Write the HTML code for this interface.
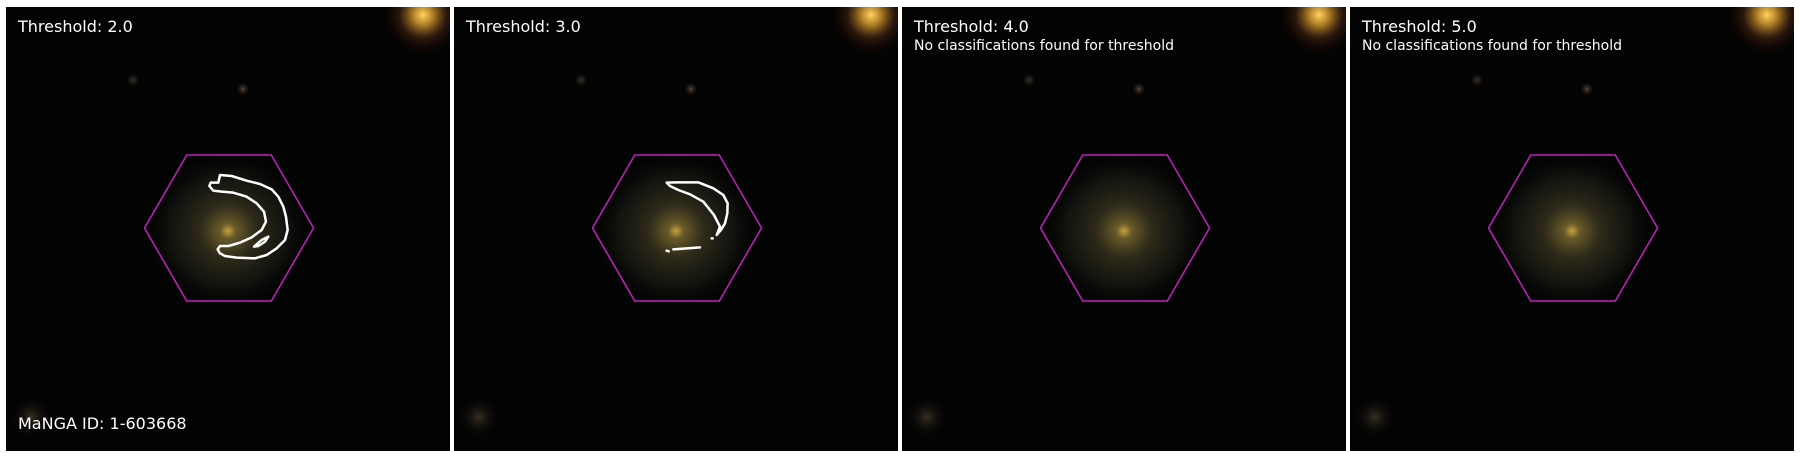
<!DOCTYPE html>
<html><head><meta charset="utf-8">
<style>
html,body{margin:0;padding:0;background:#fff;}
body{width:1800px;height:457px;position:relative;overflow:hidden;font-family:"DejaVu Sans","Liberation Sans",sans-serif;}
svg{position:absolute;left:0;top:0;}
</style></head>
<body>
<svg id="fig" width="1800" height="457" xmlns="http://www.w3.org/2000/svg">
<defs>
<clipPath id="pclip"><rect x="0" y="0" width="444" height="444"/></clipPath>
<radialGradient id="gal" cx="50%" cy="50%" r="50%">
<stop offset="0" stop-color="#c9a23a" stop-opacity="1"/>
<stop offset="0.1" stop-color="#7a6a30" stop-opacity="0.85"/>
<stop offset="0.35" stop-color="#4a4428" stop-opacity="0.6"/>
<stop offset="0.7" stop-color="#26291e" stop-opacity="0.45"/>
<stop offset="1" stop-color="#0a0d0a" stop-opacity="0"/>
</radialGradient>
<radialGradient id="star" cx="50%" cy="50%" r="50%">
<stop offset="0" stop-color="#ffd060"/>
<stop offset="0.25" stop-color="#b08028"/>
<stop offset="0.6" stop-color="#3a2010" stop-opacity="0.7"/>
<stop offset="1" stop-color="#200" stop-opacity="0"/>
</radialGradient>
<radialGradient id="faint" cx="50%" cy="50%" r="50%">
<stop offset="0" stop-color="#5a4c38"/>
<stop offset="1" stop-color="#000" stop-opacity="0"/>
</radialGradient>
</defs>
</svg>
<script>
const thresholds = ["2.0","3.0","4.0","5.0"];
const hasClass = [true, true, false, false];
const panelX = [6, 454, 902, 1350];
const panelY = 7, panelS = 444;
const svg = document.getElementById('fig');
const NS = 'http://www.w3.org/2000/svg';
function mk(tag, attrs, parent){const e=document.createElementNS(NS,tag);for(const k in attrs)e.setAttribute(k,attrs[k]);(parent||svg).appendChild(e);return e;}
const c1 = "M240,75 L275,78 L320,92 L360,102 L395,118 L415,140 L430,170 L438,200 L443,240 L435,270 L410,295 L380,315 L345,325 L290,323 L255,318 L240,310 L233,298 L240,288 L265,288 L300,278 L335,262 L365,240 L378,215 L372,185 L350,160 L320,140 L280,128 L245,125 L220,122 L208,108 L212,98 L235,98 Z M342,290 L365,270 L385,260 L375,275 L355,288 Z";
const c2 = "M230,98 L260,97 L325,97 L370,115 L400,135 L413,160 L412,190 L405,220 L393,240 L380,255 L390,230 L372,195 L340,155 L300,133 L265,120 L240,108 Z M250,298 L330,292 M365,265 L368,265 M230,302 L236,304";
for(let i=0;i<4;i++){
  const g = mk('g',{transform:`translate(${panelX[i]},${panelY})`});
  
  
  const img = mk('g',{'clip-path':'url(#pclip)'},g);
  const bg = mk('rect',{x:0,y:0,width:panelS,height:panelS,fill:'#030303'},img);
  
  
  const st = mk('circle',{cx:417,cy:8,r:40,fill:'url(#star)'},img);
  
  
  mk('circle',{cx:25,cy:410,r:22,fill:'url(#faint)',opacity:0.6},img);
  mk('circle',{cx:237,cy:82,r:8,fill:'url(#faint)'},img);
  mk('circle',{cx:127,cy:73,r:8,fill:'url(#faint)',opacity:0.7},img);
  const gl = mk('ellipse',{cx:222,cy:224,rx:82,ry:78,fill:'url(#gal)'},img);
  
  
  const cx=223, cy=221, R=84.5, h=73;
  const hx = mk('polygon',{points:`${cx-R},${cy} ${cx-R/2},${cy-h} ${cx+R/2},${cy-h} ${cx+R},${cy} ${cx+R/2},${cy+h} ${cx-R/2},${cy+h}`,fill:'none',stroke:'#c020c0','stroke-width':1.5},g);
  
  
  if(i<2){
    const org = i===0 ? [134,143] : [136,143];
    const p = mk('path',{d:i===0?c1:c2,transform:`translate(${org[0]},${org[1]}) scale(0.3333)`,fill:'none',stroke:'#fff','stroke-width':2.5,'vector-effect':'non-scaling-stroke','stroke-linejoin':'round','stroke-linecap':'round'},g);
    
    
  }
  const t = mk('text',{x:12,y:25,fill:'#fff','font-size':16,'font-family':'"DejaVu Sans","Liberation Sans",sans-serif'},g);
  t.textContent = 'Threshold: '+thresholds[i];
  
  
  if(!hasClass[i]){
    const n = mk('text',{x:12,y:43,fill:'#fff','font-size':14,'font-family':'"DejaVu Sans","Liberation Sans",sans-serif'},g);
    n.textContent = 'No classifications found for threshold';
    
    
  }
  if(i===0){
    const m = mk('text',{x:12,y:422,fill:'#fff','font-size':16,'font-family':'"DejaVu Sans","Liberation Sans",sans-serif'},g);
    m.textContent = 'MaNGA ID: 1-603668';
    
    
  }
}
</script>
</body></html>
